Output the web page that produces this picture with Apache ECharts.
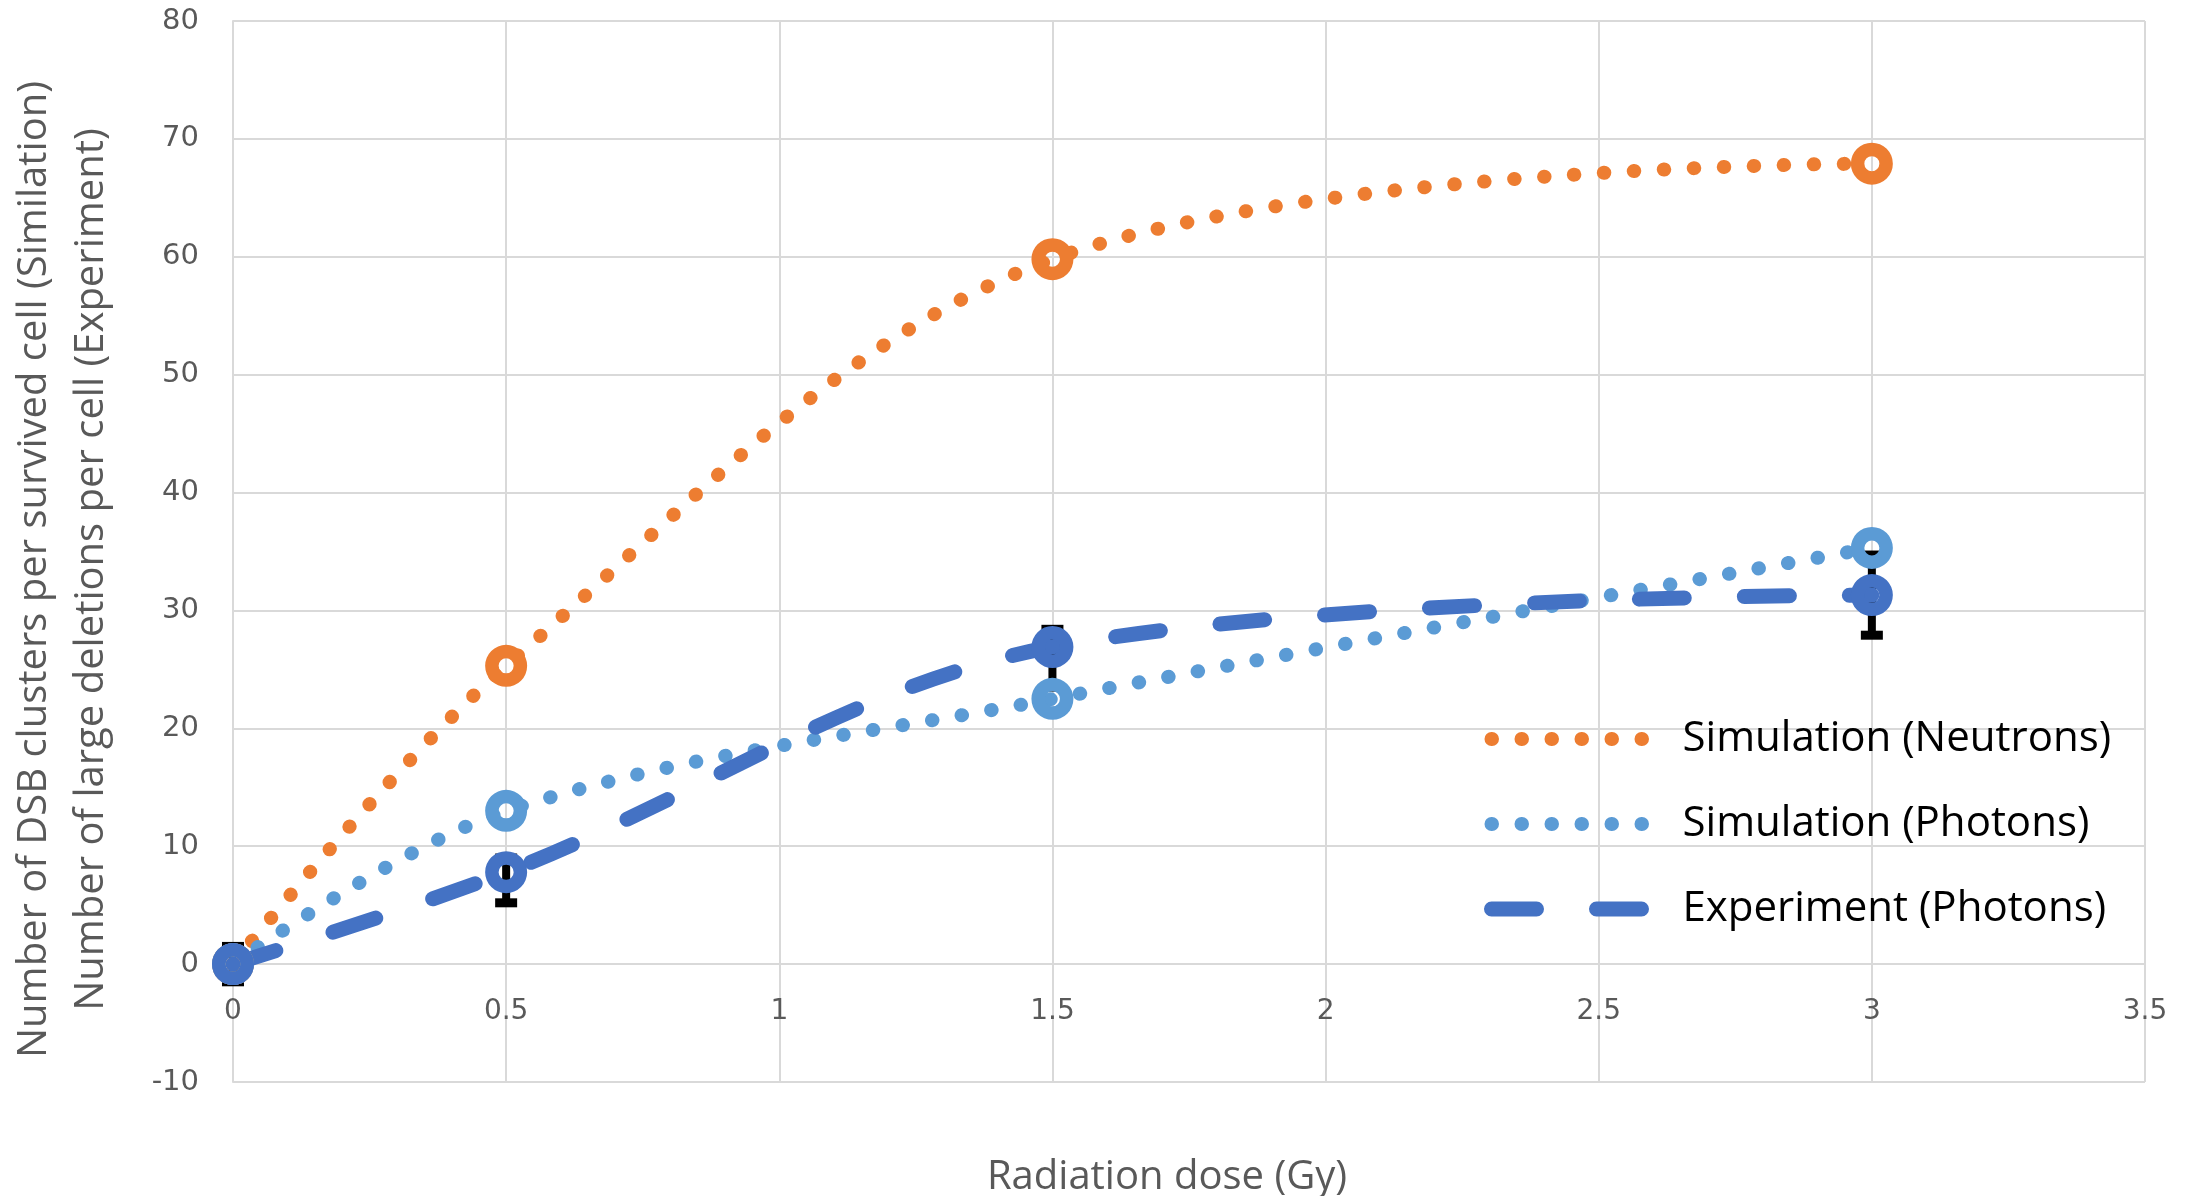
<!DOCTYPE html>
<html>
<head>
<meta charset="utf-8">
<script src="https://cdn.jsdelivr.net/npm/echarts@6/dist/echarts.min.js"></script>
<style>
  html, body { margin: 0; padding: 0; background: #fff; }
  #chart { width: 2197px; height: 1196px; }
</style>
</head>
<body>
<div id="chart"></div>
<script>
// ---------------------- Data ----------------------
let doses = [0, 0.5, 1.5, 3];
let neutron_sim = [0, 25.3, 59.8, 67.9];
let photon_sim = [0, 13.0, 22.5, 35.3];
let photon_exp = [0, 7.8, 26.9, 31.3];
let photon_exp_low = [-1.5, 5.2, 23.5, 27.9];
let photon_exp_high = [1.5, 9.0, 28.4, 34.7];

let series_names = ['Simulation (Neutrons)', 'Simulation (Photons)', 'Experiment (Photons)'];
let series_colors = ['#ED7D31', '#5B9BD5', '#4472C4'];

// ---------------------- Style ----------------------
let grid_color = '#D9D9D9';
let label_color = '#595959';
// ring marker (hollow centre)
let ring_symbol = 'path://M0,-21A21,21 0 1 1 0,21A21,21 0 1 1 0,-21Z M0,-7.5A7.5,7.5 0 1 0 0,7.5A7.5,7.5 0 1 0 0,-7.5Z';
let dotted = { width: 14, type: [0.5, 29.5], cap: 'round' };
let dashed = { width: 15, type: [45, 60], cap: 'round' };
let line_styles = [dotted, dotted, dashed];

let chart = echarts.init(document.getElementById('chart'));

function to_pairs(xs, ys) {
    return xs.map(function (x, i) { return [x, ys[i]]; });
}

function render_error_bar(params, api) {
    let x = api.value(0);
    let lo = api.coord([x, api.value(1)]);
    let hi = api.coord([x, api.value(2)]);
    let style = { stroke: '#000', lineWidth: 8 };
    let cap = { stroke: '#000', lineWidth: 9 };
    return {
        type: 'group',
        children: [
            { type: 'line', shape: { x1: lo[0], y1: lo[1], x2: hi[0], y2: hi[1] }, style: style },
            { type: 'line', shape: { x1: lo[0] - 11, y1: lo[1], x2: lo[0] + 11, y2: lo[1] }, style: cap },
            { type: 'line', shape: { x1: hi[0] - 11, y1: hi[1], x2: hi[0] + 11, y2: hi[1] }, style: cap }
        ]
    };
}

let series_list = [];
[neutron_sim, photon_sim, photon_exp].forEach(function (vals, k) {
    series_list.push({
        name: series_names[k], type: 'line', smooth: 0.35, symbol: 'none', z: 3,
        data: to_pairs(doses, vals),
        lineStyle: Object.assign({ color: series_colors[k] }, line_styles[k]),
        itemStyle: { color: series_colors[k] }
    });
});
series_list.push({
    name: 'err', type: 'custom', z: 2, silent: true,
    renderItem: render_error_bar,
    encode: { x: 0, y: [1, 2] },
    data: doses.map(function (d, i) { return [d, photon_exp_low[i], photon_exp_high[i]]; })
});
// markers at the data points
[neutron_sim, photon_sim, photon_exp].forEach(function (vals, k) {
    series_list.push({
        name: 'm' + k, type: 'scatter', z: 4, silent: true,
        symbol: ring_symbol, symbolSize: 42,
        itemStyle: { color: series_colors[k], opacity: 1 },
        data: to_pairs(doses, vals)
    });
});

let legend_data = series_names.map(function (n, k) {
    return {
        name: n,
        itemStyle: { opacity: 0 },
        lineStyle: {
            color: series_colors[k], width: line_styles[k].width,
            type: line_styles[k].type, cap: 'round', opacity: 1
        }
    };
});

let option = {
    backgroundColor: '#fff',
    animation: false,
    grid: { left: 233, top: 21, right: 52, bottom: 114, outerBoundsMode: 'none', containLabel: false },
    xAxis: {
        type: 'value', min: 0, max: 3.5, interval: 0.5,
        position: 'bottom', offset: -118,   // sit the labels on the y = 0 line
        name: 'Radiation dose (Gy)', nameLocation: 'middle', nameGap: 194,
        nameTextStyle: { fontFamily: 'Open Sans', fontSize: 40, color: label_color, lineHeight: 40, padding: [0, 44, 0, 0] },
        axisLine: { onZero: false, lineStyle: { color: grid_color, width: 2 } },
        axisTick: { show: false },
        axisLabel: { fontFamily: 'DejaVu Sans', fontSize: 28, color: label_color, margin: 34 },
        splitLine: { show: true, lineStyle: { color: grid_color, width: 2 } }
    },
    yAxis: {
        type: 'value', min: -10, max: 80, interval: 10,
        name: 'Number of DSB clusters per survived cell (Similation)\nNumber of large deletions per cell (Experiment)',
        nameLocation: 'middle', nameGap: 113,
        nameTextStyle: { fontFamily: 'Open Sans', fontSize: 40, color: label_color, lineHeight: 57, padding: [0, 36, 0, 0] },
        axisLine: { show: true, onZero: false, lineStyle: { color: grid_color, width: 2 } },
        axisTick: { show: false },
        axisLabel: { fontFamily: 'DejaVu Sans', fontSize: 29, color: label_color, margin: 34 },
        splitLine: { show: true, lineStyle: { color: grid_color, width: 2 } }
    },
    legend: {
        data: legend_data,
        orient: 'vertical', left: 1484, top: 709, padding: 0,
        itemWidth: 160, itemHeight: 20, itemGap: 25,
        selectedMode: false,
        textStyle: { fontFamily: 'Open Sans', fontSize: 42, color: '#000', lineHeight: 60, padding: [0, 0, 0, 26] }
    },
    series: series_list
};
chart.setOption(option);
</script>
</body>
</html>
